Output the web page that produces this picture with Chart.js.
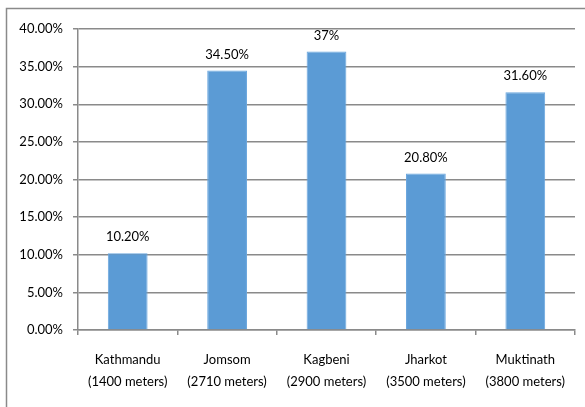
<!DOCTYPE html>
<html>
<head>
<meta charset="utf-8">
<script src="https://cdn.jsdelivr.net/npm/chart.js@4.4.1/dist/chart.umd.min.js"></script>
<style>
  html, body { margin: 0; padding: 0; background: #fff; }
  #wrap { width: 585px; height: 407px; position: relative; }
</style>
</head>
<body>
<div id="wrap"><canvas id="c" width="585" height="407"></canvas></div>
<script>
// Sites along the trail and their altitude
const sites = ['Kathmandu', 'Jomsom', 'Kagbeni', 'Jharkot', 'Muktinath'];
const altitudes = ['(1400 meters)', '(2710 meters)', '(2900 meters)', '(3500 meters)', '(3800 meters)'];
// Percentage per site
const percentValues = [10.2, 34.5, 37, 20.8, 31.6];
const valueLabels = ['10.20%', '34.50%', '37%', '20.80%', '31.60%'];
// Y axis range and step
const yMin = 0, yMax = 40, yStep = 5;

const FONT = 'Lato, "Liberation Sans", sans-serif';
const GRID = '#8a8a8a';

// White background and the outer frame line
const framePlugin = {
  id: 'frame',
  beforeDraw(chart) {
    const ctx = chart.ctx;
    ctx.save();
    ctx.fillStyle = '#fff';
    ctx.fillRect(0, 0, chart.width, chart.height);
    ctx.strokeStyle = '#8a8a8a';
    ctx.lineWidth = 1.5;
    ctx.beginPath();
    ctx.moveTo(6.5, chart.height);
    ctx.lineTo(6.5, 8.5);
    ctx.lineTo(chart.width, 8.5);
    ctx.stroke();
    ctx.restore();
  }
};

// Value text above each bar
const valueLabelPlugin = {
  id: 'valueLabels',
  afterDatasetsDraw(chart) {
    const ctx = chart.ctx;
    const meta = chart.getDatasetMeta(0);
    ctx.save();
    ctx.fillStyle = '#000';
    ctx.font = '13px ' + FONT;
    ctx.textAlign = 'center';
    ctx.textBaseline = 'middle';
    meta.data.forEach((bar, i) => {
      ctx.fillText(valueLabels[i], bar.x, bar.y - 16);
    });
    ctx.restore();
  }
};

new Chart(document.getElementById('c'), {
  type: 'bar',
  data: {
    labels: sites.map((s, i) => [s, altitudes[i]]),
    datasets: [{
      data: percentValues,
      backgroundColor: '#5b9bd5',
      borderColor: '#6aa6de',
      borderWidth: 1,
      categoryPercentage: 0.8,
      barPercentage: 0.5
    }]
  },
  options: {
    responsive: false,
    animation: false,
    devicePixelRatio: 1,
    layout: { padding: { left: 0, top: 29, right: 10, bottom: 0 } },
    plugins: { legend: { display: false }, tooltip: { enabled: false } },
    scales: {
      y: {
        min: yMin, max: yMax,
        ticks: {
          stepSize: yStep,
          color: '#000',
          font: { family: FONT, size: 13 },
          padding: 10,
          callback: v => v.toFixed(2) + '%'
        },
        grid: { color: GRID, lineWidth: 1.5, tickLength: 5, drawTicks: true },
        border: { color: GRID, width: 1.5 },
        afterFit(scale) { scale.width = 78; }
      },
      x: {
        ticks: {
          color: '#000',
          font: { family: FONT, size: 13, lineHeight: 1.7 },
          padding: 14,
          maxRotation: 0
        },
        grid: { drawOnChartArea: false, color: GRID, lineWidth: 1.5, tickLength: 5, offset: true },
        border: { color: GRID, width: 1.5 },
        afterFit(scale) { scale.height = 77; }
      }
    }
  },
  plugins: [framePlugin, valueLabelPlugin]
});
</script>
</body>
</html>
